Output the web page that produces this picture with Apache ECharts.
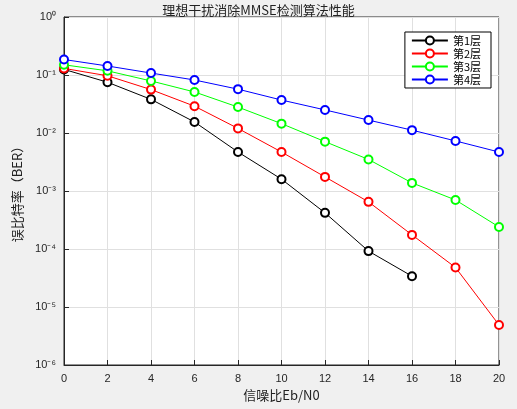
<!DOCTYPE html>
<html><head><meta charset="utf-8">
<script src="https://cdn.jsdelivr.net/npm/echarts@6/dist/echarts.min.js"></script>
<style>html,body{margin:0;padding:0;background:#f0f0f0}#c{width:517px;height:409px}</style>
</head><body><div id="c"></div>
<script>
const snr = [0,2,4,6,8,10,12,14,16,18,20];
const layer1 = [0.125,0.075,0.038,0.0155,0.0047,0.0016,0.00042,0.000092,0.000034];
const layer2 = [0.13,0.097,0.056,0.029,0.012,0.0047,0.00175,0.00065,0.000175,0.000048,0.0000049];
const layer3 = [0.15,0.118,0.079,0.051,0.028,0.0145,0.0071,0.0035,0.00138,0.00070,0.00024];
const layer4 = [0.185,0.143,0.108,0.082,0.057,0.037,0.025,0.0167,0.0112,0.0073,0.0047];
const names = ['第1层','第2层','第3层','第4层'];
const colors = ['#000000','#ff0000','#00ff00','#0000ff'];
const all = [layer1,layer2,layer3,layer4];
const font = "'Noto Sans CJK SC', sans-serif";
const sup = {'-6':'⁻⁶','-5':'⁻⁵','-4':'⁻⁴','-3':'⁻³','-2':'⁻²','-1':'⁻¹','0':'⁰'};
const chart = echarts.init(document.getElementById('c'));
chart.setOption({
  backgroundColor:'#f0f0f0',
  animation:false,
  title:{text:'理想干扰消除MMSE检测算法性能',left:'center',top:-1,textStyle:{fontSize:13,fontWeight:'normal',color:'#222',fontFamily:font}},
  legend:{orient:'vertical',right:26,top:32,backgroundColor:'#fff',borderColor:'#000',borderWidth:1,padding:[3,10,3,6],itemGap:2,itemWidth:36,itemHeight:10,
    textStyle:{fontSize:11,color:'#000',fontFamily:font,width:40},data:names},
  grid:{left:64,right:18,top:17,bottom:44,show:true,backgroundColor:'#fff',borderColor:'#262626',borderWidth:1},
  xAxis:{type:'value',min:0,max:20,interval:2,name:'信噪比Eb/N0',nameLocation:'middle',nameGap:22,
    nameTextStyle:{fontSize:13,color:'#222',fontFamily:font},
    axisLine:{lineStyle:{color:'#262626'}},axisTick:{inside:true,lineStyle:{color:'#262626'}},
    axisLabel:{color:'#262626',fontSize:11},splitLine:{show:true,lineStyle:{color:'#e0e0e0'}}},
  yAxis:{type:'log',min:1e-6,max:1,logBase:10,name:'误比特率（BER）',nameLocation:'middle',nameGap:40,
    nameTextStyle:{fontSize:13,color:'#222',fontFamily:font},
    axisLine:{lineStyle:{color:'#262626'}},axisTick:{inside:true,lineStyle:{color:'#262626'}},
    axisLabel:{color:'#262626',fontSize:11,formatter:v=>{const e=Math.round(Math.log10(v));return '10'+(sup[String(e)]||'');}},
    splitLine:{show:true,lineStyle:{color:'#e0e0e0'}}},
  series: all.map((d,i)=>({name:names[i],type:'line',data:d.map((v,j)=>[snr[j],v]),
    symbol:'emptyCircle',symbolSize:8,showAllSymbol:true,color:colors[i],
    lineStyle:{width:1,color:colors[i]},itemStyle:{color:colors[i],borderColor:colors[i],borderWidth:1}}))
});
</script></body></html>
